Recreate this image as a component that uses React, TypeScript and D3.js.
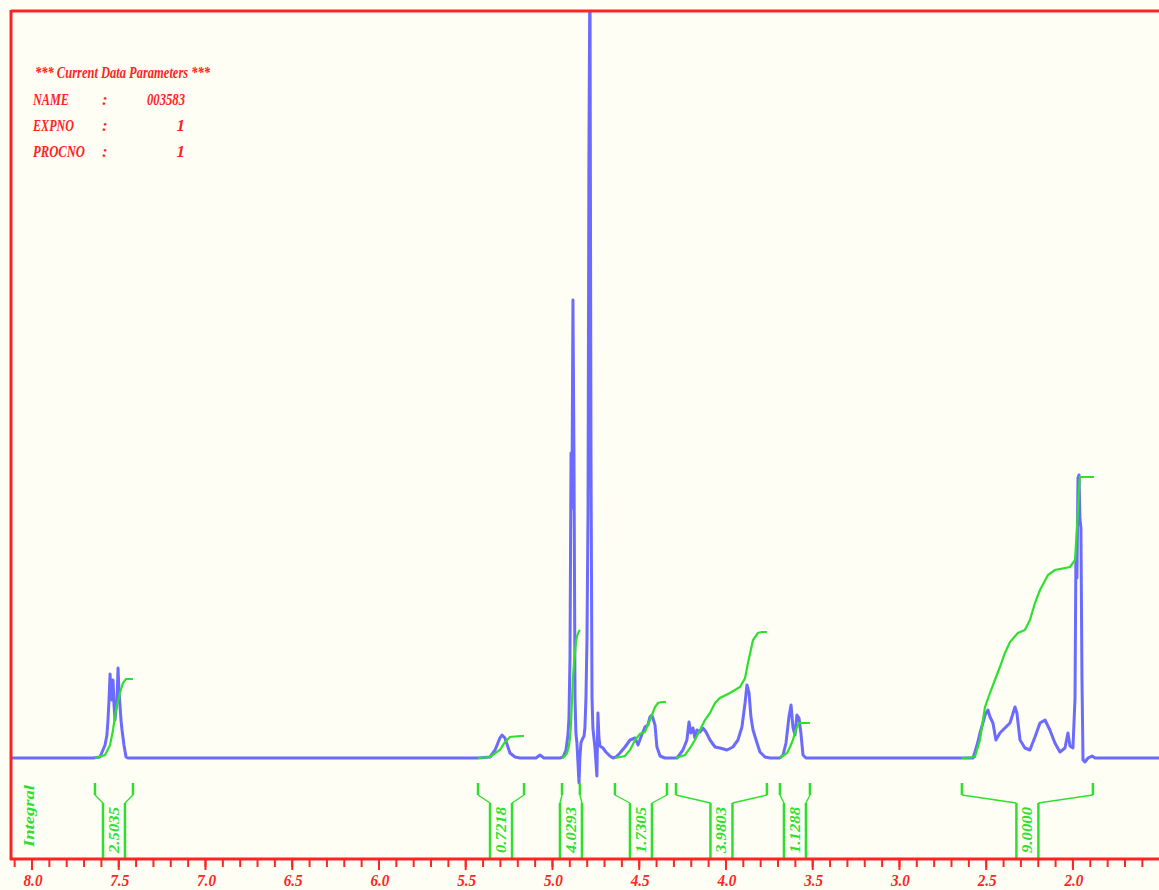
import React from 'react';
import * as d3 from 'd3';

// spectrum points per multiplet: [ppm, intensity]
const aromatic = [[7.648,0],[7.608,1],[7.591,8],[7.579,13],[7.568,23],[7.562,38],[7.556,58],[7.550,84],[7.545,63],[7.539,58],[7.533,78],[7.527,53],[7.522,38],[7.516,48],[7.510,58],[7.504,90],[7.499,68],[7.493,53],[7.487,38],[7.481,28],[7.470,13],[7.458,1],[7.447,0]];
const olefinic = [[5.429,0],[5.360,1],[5.331,8],[5.303,20],[5.291,23],[5.274,20],[5.245,5],[5.216,1],[5.187,0],[5.095,0],[5.072,3],[5.049,0]];
const anomeric = [[4.957,0],[4.939,1],[4.922,8],[4.911,23],[4.905,40],[4.899,100],[4.893,305],[4.888,250],[4.882,458],[4.876,300],[4.870,60],[4.865,25],[4.859,15],[4.853,-5],[4.847,-25],[4.842,0],[4.836,15],[4.830,18],[4.818,22],[4.813,30],[4.807,60],[4.801,120],[4.795,250],[4.790,600],[4.784,800],[4.778,300],[4.772,60],[4.767,30],[4.755,10],[4.744,-18],[4.738,45],[4.732,20],[4.726,12],[4.709,10],[4.692,6],[4.669,2],[4.651,0]];
const region45 = [[4.634,1],[4.611,5],[4.582,11],[4.553,18],[4.524,20],[4.507,13],[4.490,21],[4.467,31],[4.450,33],[4.438,41],[4.427,43],[4.409,33],[4.398,11],[4.380,2],[4.352,0]];
const region40 = [[4.282,0],[4.248,8],[4.225,18],[4.213,36],[4.202,25],[4.190,30],[4.179,20],[4.167,28],[4.150,26],[4.133,30],[4.115,26],[4.092,18],[4.063,11],[4.035,10],[3.994,8],[3.960,11],[3.931,18],[3.908,31],[3.890,55],[3.879,73],[3.867,65],[3.856,41],[3.844,28],[3.821,15],[3.804,6],[3.775,1],[3.746,0]];
const region36 = [[3.689,0],[3.671,3],[3.654,15],[3.637,41],[3.625,53],[3.614,31],[3.602,23],[3.591,43],[3.579,40],[3.568,25],[3.556,3],[3.539,0]];
const region22 = [[2.576,0],[2.565,6],[2.548,16],[2.536,25],[2.519,35],[2.507,43],[2.490,48],[2.478,41],[2.461,35],[2.444,18],[2.421,25],[2.392,30],[2.363,35],[2.334,51],[2.323,45],[2.305,18],[2.277,10],[2.248,8],[2.219,21],[2.190,35],[2.161,38],[2.133,28],[2.104,15],[2.075,6],[2.046,10],[2.029,25],[2.017,12],[2.000,10],[1.988,60],[1.983,200],[1.977,180],[1.971,280],[1.965,283],[1.960,240],[1.954,230],[1.948,80],[1.942,-2],[1.931,-4],[1.913,0],[1.890,2],[1.873,0]];

// integral curves
const integralCurves = [
  [[7.637,0],[7.579,3],[7.550,13],[7.533,28],[7.516,48],[7.493,65],[7.476,75],[7.458,79],[7.418,79]],
  [[5.429,0],[5.360,1],[5.303,8],[5.274,16],[5.245,21],[5.187,22],[5.164,22]],
  [[4.945,0],[4.928,2],[4.916,5],[4.905,12],[4.899,20],[4.893,35],[4.888,55],[4.882,80],[4.876,95],[4.870,105],[4.865,115],[4.859,122],[4.847,127],[4.842,128]],
  [[4.640,0],[4.582,2],[4.553,8],[4.524,18],[4.496,24],[4.467,26],[4.438,38],[4.409,51],[4.392,55],[4.369,56],[4.346,56]],
  [[4.288,0],[4.236,3],[4.207,10],[4.179,18],[4.150,28],[4.121,38],[4.092,45],[4.063,55],[4.035,60],[3.977,65],[3.919,71],[3.890,80],[3.873,95],[3.844,118],[3.816,125],[3.793,126],[3.764,126]],
  [[3.689,0],[3.648,5],[3.631,11],[3.614,18],[3.597,28],[3.579,35],[3.562,35],[3.516,35]],
  [[2.640,0],[2.565,1],[2.536,18],[2.507,51],[2.478,65],[2.450,78],[2.421,91],[2.392,105],[2.363,116],[2.317,125],[2.277,128],[2.248,138],[2.219,155],[2.190,168],[2.144,183],[2.104,188],[2.017,191],[1.988,198],[1.977,230],[1.971,248],[1.965,270],[1.960,281],[1.879,281]],
];

const integralRanges = [[7.637,7.418],[5.429,5.164],[4.945,4.842],[4.640,4.340],[4.288,3.764],[3.689,3.516],[2.640,1.885]];
const integralValues = ['2.5035','0.7218','4.0293','1.7305','3.9803','1.1288','9.0000'];

const majorTicks = [8.0,7.5,7.0,6.5,6.0,5.5,5.0,4.5,4.0,3.5,3.0,2.5,2.0];
const tickLabels = ['8.0','7.5','7.0','6.5','6.0','5.5','5.0','4.5','4.0','3.5','3.0','2.5','2.0'];

const paramNames = ['NAME','EXPNO','PROCNO'];
const paramValues = ['003583','1','1'];

const RED = '#ff2424';
const GREEN = '#2ee02e';
const BLUE = '#6b6bff';
const BG = '#fffef4';
const FONT = '"Liberation Serif", "Times New Roman", serif';

export default function App() {
  const x = d3.scaleLinear().domain([8.121, 1.504]).range([11, 1159]);
  const y = d3.scaleLinear().domain([0, 747]).range([758, 11]);
  const line = d3.line<number[]>().x(d => x(d[0])).y(d => y(d[1]));

  const spectrum = [[8.2,0], ...aromatic, ...olefinic, ...anomeric, ...region45, ...region40, ...region36, ...region22, [1.4,0]];
  const minorTicks = d3.range(81, 15, -1).map(v => v / 10);

  const axisY = 859;
  const nameW = [36, 41, 52];

  return (
    <div>
      <style>{`body{margin:0;background:${BG}}`}</style>
      <svg width={1159} height={890} style={{ display: 'block', background: BG }}>
        <defs>
          <clipPath id="plot">
            <rect x={11} y={11} width={1148} height={848} />
          </clipPath>
        </defs>

        <g clipPath="url(#plot)">
          <path d={line(spectrum) || ''} fill="none" stroke={BLUE} strokeWidth={3} strokeLinejoin="round" />
          {integralCurves.map((c, i) => (
            <path key={i} d={line(c) || ''} fill="none" stroke={GREEN} strokeWidth={2.2} />
          ))}
        </g>

        {/* integral brackets */}
        {integralRanges.map((r, i) => {
          const xa = x(r[0]), xb = x(r[1]);
          const c = (xa + xb) / 2;
          const il = c - 11, ir = c + 11;
          return (
            <g key={i} fill="none" stroke={GREEN}>
              <line x1={xa} y1={783} x2={xa} y2={795} strokeWidth={2.5} />
              <line x1={xb} y1={783} x2={xb} y2={795} strokeWidth={2.5} />
              <line x1={xa} y1={795} x2={il} y2={803} strokeWidth={1.4} />
              <line x1={xb} y1={795} x2={ir} y2={803} strokeWidth={1.4} />
              <line x1={il} y1={803} x2={il} y2={axisY} strokeWidth={2.5} />
              <line x1={ir} y1={803} x2={ir} y2={axisY} strokeWidth={2.5} />
              <text transform={`translate(${c},830) rotate(-90)`} textAnchor="middle" dominantBaseline="central"
                fill={GREEN} stroke="none" fontFamily={FONT} fontWeight="bold" fontStyle="italic" fontSize={15}
                textLength={46} lengthAdjust="spacingAndGlyphs">{integralValues[i]}</text>
            </g>
          );
        })}
        <text transform="translate(28.5,816) rotate(-90)" textAnchor="middle" dominantBaseline="central"
          fill={GREEN} fontFamily={FONT} fontWeight="bold" fontStyle="italic" fontSize={15}
          textLength={62} lengthAdjust="spacingAndGlyphs">Integral</text>

        {/* frame */}
        <line x1={11} y1={11} x2={1159} y2={11} stroke={RED} strokeWidth={3} />
        <line x1={11} y1={10} x2={11} y2={axisY + 1} stroke={RED} strokeWidth={3} />
        <line x1={10} y1={axisY} x2={1159} y2={axisY} stroke={RED} strokeWidth={3} />

        {/* axis ticks */}
        {minorTicks.map(t => (
          <line key={t} x1={x(t)} y1={axisY} x2={x(t)} y2={867} stroke={RED} strokeWidth={2} />
        ))}
        {majorTicks.map((t, i) => (
          <g key={t}>
            <line x1={x(t)} y1={axisY} x2={x(t)} y2={870} stroke={RED} strokeWidth={2} />
            <text x={x(t) + 1} y={886} textAnchor="middle" fill={RED} fontFamily={FONT} fontWeight="bold"
              fontStyle="italic" fontSize={17} textLength={19} lengthAdjust="spacingAndGlyphs">{tickLabels[i]}</text>
          </g>
        ))}

        {/* parameters */}
        <g fill={RED} fontFamily={FONT} fontWeight="bold" fontStyle="italic">
          <text x={35} y={78} fontSize={16} textLength={175} lengthAdjust="spacingAndGlyphs">*** Current Data Parameters ***</text>
          {paramNames.map((n, i) => (
            <g key={n}>
              <text x={33} y={105 + i * 26} fontSize={17} textLength={nameW[i]} lengthAdjust="spacingAndGlyphs">{n}</text>
              <text x={102} y={105 + i * 26} fontSize={17}>:</text>
              {paramValues[i].length > 1 ? (
                <text x={185} y={105 + i * 26} fontSize={17} textAnchor="end" textLength={38} lengthAdjust="spacingAndGlyphs">{paramValues[i]}</text>
              ) : (
                <text x={185} y={105 + i * 26} fontSize={17} textAnchor="end">{paramValues[i]}</text>
              )}
            </g>
          ))}
        </g>
      </svg>
    </div>
  );
}
